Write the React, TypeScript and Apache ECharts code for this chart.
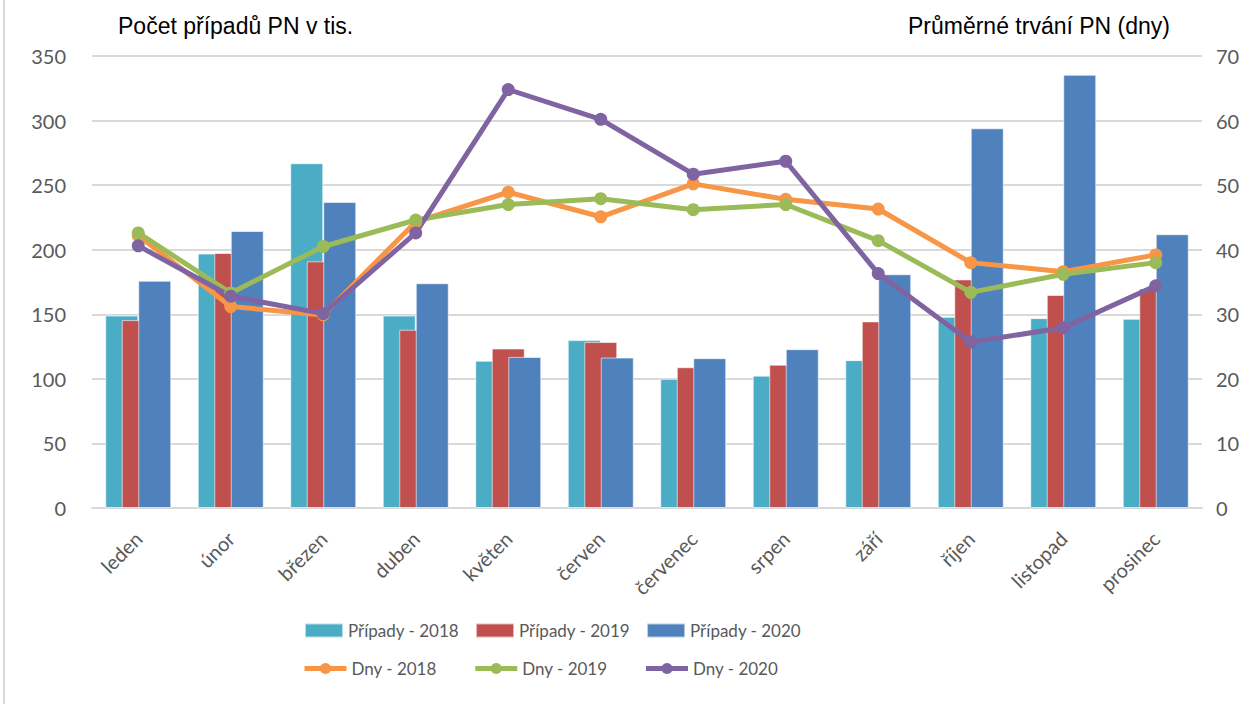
import React, { useEffect, useRef } from "react";
import * as echarts from "echarts";

const months = ["leden", "únor", "březen", "duben", "květen", "červen", "červenec", "srpen", "září", "říjen", "listopad", "prosinec"];
const pripady2018 = [149, 197, 267, 149, 114, 130, 100, 102.5, 114.5, 148, 147, 146.5];
const pripady2019 = [145.5, 197.5, 191, 138, 123.5, 128.5, 109, 111, 144.5, 177, 165, 170];
const pripady2020 = [176, 214.5, 237, 174, 117, 116.5, 116, 123, 181, 294, 335.5, 212];
const dny2018 = [42.2, 31.2, 29.9, 44.3, 48.9, 45.1, 50.2, 47.8, 46.3, 38.0, 36.6, 39.2];
const dny2019 = [42.6, 33.3, 40.5, 44.6, 47.0, 47.9, 46.2, 47.0, 41.4, 33.4, 36.2, 38.0];
const dny2020 = [40.6, 32.8, 30.1, 42.6, 64.8, 60.2, 51.7, 53.7, 36.3, 25.7, 27.9, 34.4];
const leftTicks = { min: 0, max: 350, interval: 50 };
const rightTicks = { min: 0, max: 70, interval: 10 };

const C = {
  teal: "#4BACC6",
  red: "#C0504D",
  blue: "#4F81BD",
  orange: "#F79646",
  green: "#9BBB59",
  purple: "#8064A2",
};

const FONT = "Lato, 'Open Sans', sans-serif";
const TITLE_FONT = "'Liberation Sans', Arial, sans-serif";

export default function App() {
  const ref = useRef<HTMLDivElement>(null);
  useEffect(() => {
    if (!ref.current) return;
    const chart = echarts.init(ref.current, null, { renderer: "svg" });
    const barStyle = (color: string) => ({
      color,
      borderColor: "rgba(255,255,255,0.6)",
      borderWidth: 1,
    });
    const lineSeries = (name: string, data: number[], color: string) => ({
      name,
      type: "line",
      yAxisIndex: 1,
      data,
      symbol: "circle",
      symbolSize: 13,
      lineStyle: { width: 5, color },
      itemStyle: { color },
      z: 5,
    });
    chart.setOption({
      animation: false,
      backgroundColor: "#fff",
      grid: { left: 92, right: 51, top: 56, bottom: 196 },
      legend: [
        {
          data: ["Případy - 2018", "Případy - 2019", "Případy - 2020"],
          left: 304,
          top: 622,
          padding: 0,
          itemWidth: 38,
          itemHeight: 14,
          itemGap: 16,
          icon: "rect",
          textStyle: { fontFamily: FONT, fontSize: 17, color: "#595959" },
        },
        {
          data: ["Dny - 2018", "Dny - 2019", "Dny - 2020"],
          left: 302,
          top: 660,
          padding: 0,
          itemWidth: 42,
          itemHeight: 14,
          itemGap: 36,
          lineStyle: { width: 5 },
          textStyle: { fontFamily: FONT, fontSize: 17, color: "#595959" },
        },
      ],
      xAxis: {
        type: "category",
        data: months,
        axisLine: { lineStyle: { color: "#d9d9d9", width: 2 } },
        axisTick: { show: false },
        axisLabel: {
          rotate: 45,
          fontFamily: FONT,
          fontSize: 20,
          color: "#595959",
          margin: 27,
          interval: 0,
        },
      },
      yAxis: [
        {
          type: "value",
          ...leftTicks,
          axisLine: { show: false },
          axisTick: { show: false },
          splitLine: { lineStyle: { color: "#d9d9d9", width: 2 } },
          axisLabel: { fontFamily: FONT, fontSize: 20, color: "#595959", margin: 26 },
        },
        {
          type: "value",
          ...rightTicks,
          axisLine: { show: false },
          axisTick: { show: false },
          splitLine: { show: false },
          axisLabel: { fontFamily: FONT, fontSize: 20, color: "#595959", margin: 14 },
        },
      ],
      series: [
        { name: "Případy - 2018", type: "bar", data: pripady2018, barWidth: 33, barGap: "-50%", itemStyle: barStyle(C.teal) },
        { name: "Případy - 2019", type: "bar", data: pripady2019, barWidth: 33, barGap: "-50%", itemStyle: barStyle(C.red) },
        { name: "Případy - 2020", type: "bar", data: pripady2020, barWidth: 33, barGap: "-50%", itemStyle: barStyle(C.blue) },
        lineSeries("Dny - 2018", dny2018, C.orange),
        lineSeries("Dny - 2019", dny2019, C.green),
        lineSeries("Dny - 2020", dny2020, C.purple),
      ],
      graphic: [
        {
          type: "text",
          left: 118,
          top: 14,
          style: {
            text: "Počet případů PN v tis.",
            font: "23px " + TITLE_FONT,
            fill: "#000",
          },
        },
        {
          type: "text",
          right: 83,
          top: 14,
          style: {
            text: "Průměrné trvání PN (dny)",
            font: "23px " + TITLE_FONT,
            fill: "#000",
          },
        },
        {
          type: "line",
          shape: { x1: 4, y1: 0, x2: 4, y2: 704 },
          style: { stroke: "#d9d9d9", lineWidth: 2 },
        },
      ],
    });
    return () => chart.dispose();
  }, []);
  return (
    <div
      ref={ref}
      style={{ position: "fixed", left: 0, top: 0, width: 1253, height: 704 }}
    />
  );
}
